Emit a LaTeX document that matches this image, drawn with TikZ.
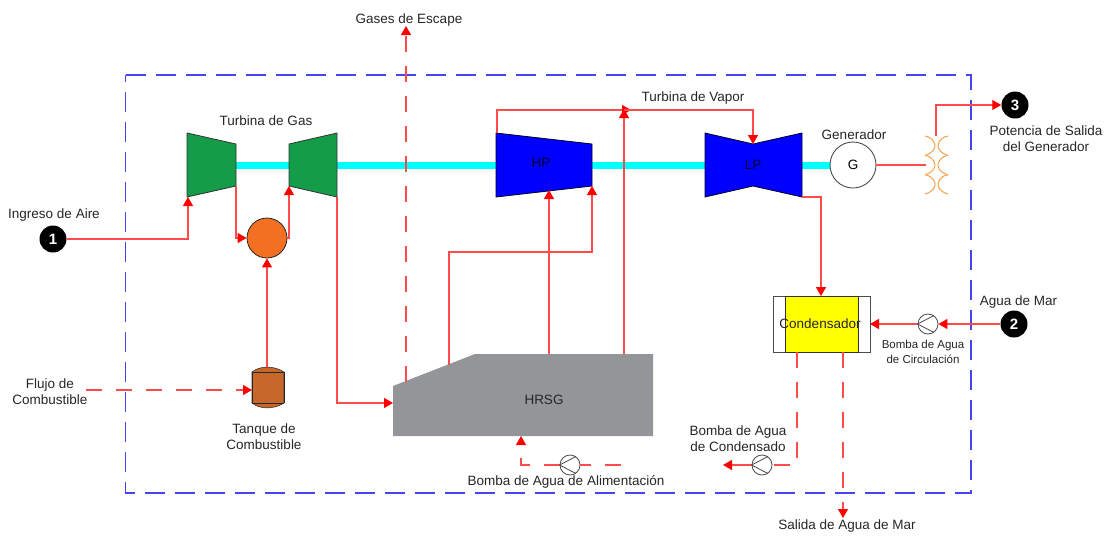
\documentclass[tikz,border=0pt]{standalone}
\usepackage{fontspec}
\setmainfont{Liberation Sans}
\usetikzlibrary{arrows.meta,calc}
\definecolor{flowred}{RGB}{255,75,75}
\definecolor{gasgreen}{RGB}{20,156,73}
\definecolor{frameblue}{RGB}{70,70,240}
\definecolor{tankbrown}{RGB}{200,103,42}
\definecolor{combor}{RGB}{243,111,33}
\definecolor{hrsggrey}{RGB}{147,149,152}
\definecolor{shaftcy}{RGB}{0,255,255}
\definecolor{coilor}{RGB}{247,162,75}
\definecolor{condy}{RGB}{255,255,0}
\definecolor{pureblue}{RGB}{0,0,255}
\tikzset{
 x=1pt,y=-1pt,
 flow/.style={color=flowred,line width=1.05pt},
 arrow/.style={flow,-{Triangle[length=9pt,width=10pt,fill=red,color=red]}},
 dflow/.style={flow,dash pattern=on 16pt off 14pt},
 darrow/.style={arrow,dash pattern=on 16pt off 14pt},
 lbl/.style={font=\fontsize{13.5}{16}\selectfont,text=black!85,inner sep=0pt,align=center},
 turb/.style={draw=black!80,line width=.8pt,fill=gasgreen},
 steam/.style={draw=black!85!blue,line width=.8pt,fill=pureblue},
 badge/.style={circle,fill=black,text=white,inner sep=0pt,minimum size=27pt,font=\fontsize{15}{15}\selectfont\bfseries},
 pumpc/.style={circle,draw=black!70,fill=white,line width=.8pt,inner sep=0pt,minimum size=20pt},
}
\begin{document}
\begin{tikzpicture}
\useasboundingbox (0,0) rectangle (1108,536);
% frame
\begin{scope}[color=frameblue]
\draw[color=frameblue,line width=1.05pt,dash pattern=on 20pt off 10pt] (125.5,75) -- (971,75) -- (971,493) -- (125.5,493) -- cycle;
\end{scope}
% shafts
\fill[shaftcy] (236,161.5) rectangle (289,169);
\fill[shaftcy] (337,161.5) rectangle (496,169);
\fill[shaftcy] (592,161.5) rectangle (705,169);
\fill[shaftcy] (802,161.5) rectangle (831,169);
% anchors
\coordinate (compIn) at (188,197);
\coordinate (compOut) at (236,186);
\coordinate (turbIn) at (289,186);
\coordinate (turbOut) at (337,197);
\coordinate (hpIn1) at (549,190);
\coordinate (hpIn2) at (592,186);
\coordinate (hpTop) at (497,133);
\coordinate (lpTop) at (753,144);
\coordinate (lpOut) at (802,197);
\coordinate (coilTop) at (936,136);
\coordinate (coilMid) at (926,165);
% machines
\draw[turb] (187,133) -- (236,144) -- (236,186) -- (187,197) -- cycle;
\draw[turb] (289,144) -- (337,133) -- (337,197) -- (289,186) -- cycle;
\draw[steam] (496,133) -- (592,144) -- (592,186) -- (496,197) -- cycle;
\draw[steam] (705,133) -- (753,144) -- (802,133) -- (802,197) -- (753,186) -- (705,197) -- cycle;
\node[lbl,text=black!85!blue] (hp) at (541,163) {HP};
\node[lbl,text=black!85!blue] (lp) at (753,165) {LP};
\node[circle,draw=black!85,fill=combor,line width=.8pt,minimum size=40pt,inner sep=0pt] (comb) at (267,238) {};
% tank
\fill[tankbrown,draw=black!80,line width=.6pt] (252,372) .. controls (260,365.5) and (274,365.5) .. (284,372) -- (284,403) .. controls (274,409.5) and (260,409.5) .. (252,403) -- cycle;
\draw[black!85,line width=.8pt] (252,372) -- (284,372) (252,403) -- (284,403) (252,372) -- (252,403) (284,372) -- (284,403);
\coordinate (tankTop) at (267,367);
\coordinate (tankL) at (252,390);
% hrsg
\fill[hrsggrey] (393,386) -- (475,354) -- (653,354) -- (653,436) -- (393,436) -- cycle;
\coordinate (hrsgIn) at (393,403);
\coordinate (hrsgGas) at (406,381.5);
\coordinate (hrsgA) at (449,365);
\coordinate (hrsgB) at (549,354);
\coordinate (hrsgC) at (624,354);
\coordinate (hrsgF) at (521,436);
\node[lbl] (hrsgT) at (544,400) {HRSG};
% condenser
\draw[black!70,line width=.9pt,fill=white] (773,296) rectangle (870,352);
\draw[black!80,line width=.8pt,fill=condy] (785,296) rectangle (858,352);
\coordinate (condTop) at (821,296);
\coordinate (condR) at (870,324);
\coordinate (condA) at (797,352);
\coordinate (condB) at (843,352);
\node[lbl] (condT) at (820,324) {Condensador};
% generator
\node[circle,draw=black!70,fill=white,line width=.9pt,minimum size=46pt,inner sep=0pt,font=\fontsize{13.5}{16}\selectfont] (gen) at (853,165) {G};
% coils
\foreach \y in {136,155.4,174.7}{
 \draw[coilor,line width=1pt] (925,\y) .. controls (934,\y+1) and (942,\y+14) .. (925,\y+19.4);
 \draw[coilor,line width=1pt] (948,\y) .. controls (939,\y+1) and (931,\y+14) .. (948,\y+19.4);
}
% badges
\node[badge] (b1) at (53,239) {1};
\node[badge] (b2) at (1014,324) {2};
\node[badge] (b3) at (1015,105) {3};
% free ends
\coordinate (flujoS) at (86,390);
\coordinate (gasEnd) at (406,26);
\coordinate (salEnd) at (843,518);
\coordinate (cOut) at (723,465);
\coordinate (feedS) at (621,465);
% pump nodes
\node[pumpc] (pa) at (928,324) {};
\node[pumpc] (pb) at (762,465) {};
\node[pumpc] (pc) at (570,465) {};
% connectors
\draw[arrow] (b1) -- (b1 -| compIn) -- (compIn);
\draw[arrow] (compOut) |- (comb.west);
\draw[arrow] (comb.east) -| (turbIn);
\draw[arrow] (tankTop) -- (comb.south);
\draw[darrow] (flujoS) -- (tankL);
\draw[arrow] (turbOut) |- (hrsgIn);
\draw[darrow] (hrsgGas) -- (gasEnd);
\draw[arrow] (hrsgA) -- (449,252) -| (hpIn2);
\draw[arrow] (hrsgB) -- (hpIn1);
\draw[arrow] (hrsgC) -- (624,109);
\draw[arrow] (hpTop) -- (497,110) -- (631,110);
\draw[arrow] (624,110) -| (lpTop);
\draw[arrow] (lpOut) -| (condTop);
\draw[arrow] (b2) -- (pa);
\draw[arrow] (pa) -- (condR);
\draw[dflow] (condA) -- (797,465) -- (pb);
\draw[arrow] (pb) -- (cOut);
\draw[darrow] (condB) -- (salEnd);
\draw[dflow] (feedS) -- (pc);
\draw[darrow] (pc) -- (521,465) -- (hrsgF);
\draw[flow] (gen) -- (coilMid);
\draw[arrow] (coilTop) |- (b3);
% pump glyphs
\foreach \n in {pa,pb,pc}{
 \draw[black!70,line width=.8pt] (\n.55) -- (\n.180) -- (\n.305);
}
% labels
\node[lbl] (t1) at (409,20) {Gases de Escape};
\node[lbl] (t2) at (266,121) {Turbina de Gas};
\node[lbl] (t3) at (693,98) {Turbina de Vapor};
\node[lbl] (t4) at (54,215) {Ingreso de Aire};
\node[lbl] (t5) at (854,135) {Generador};
\node[lbl] (t6) at (1046,139) {Potencia de Salida\\del Generador};
\node[lbl] (t7) at (1018.5,302) {Agua de Mar};
\node[lbl,font=\fontsize{11.5}{15}\selectfont] (t8) at (923,352) {Bomba de Agua\\de Circulación};
\node[lbl] (t9) at (738,439) {Bomba de Agua\\de Condensado};
\node[lbl] (t10) at (566,481.5) {Bomba de Agua de Alimentación};
\node[lbl] (t11) at (847,526.5) {Salida de Agua de Mar};
\node[lbl] (t12) at (50,391.5) {Flujo de\\Combustible};
\node[lbl] (t13) at (264,436.5) {Tanque de\\Combustible};
\end{tikzpicture}
\end{document}
